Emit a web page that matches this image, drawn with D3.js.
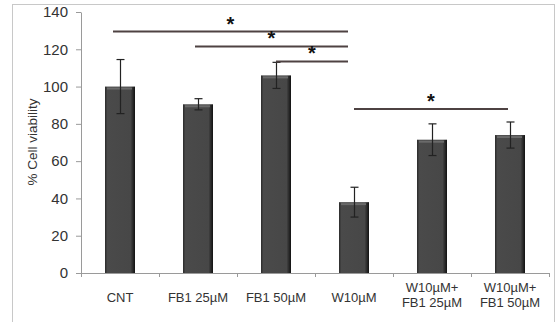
<!DOCTYPE html>
<html>
<head>
<meta charset="utf-8">
<script src="https://cdn.jsdelivr.net/npm/d3@7/dist/d3.min.js"></script>
<style>
  html, body { margin: 0; padding: 0; background: #fff; }
  svg { display: block; font-family: Arial, "Liberation Sans", sans-serif; }
</style>
</head>
<body>
<svg id="chart" width="558" height="322"></svg>
<script>
// Treatment groups (label lines), mean viability and error (±)
const categories = ["CNT", "FB1 25µM", "FB1 50µM", "W10µM", "W10µM+\nFB1 25µM", "W10µM+\nFB1 50µM"];
const viability = [100, 90.5, 106, 38, 71.5, 74];
const errors = [14.5, 3, 7, 8, 8.5, 7];
const yTicks = [0, 20, 40, 60, 80, 100, 120, 140];
// Significance brackets: from group, to group, height (% units)
const sigFrom = [0, 1, 2, 3];
const sigTo = [3, 3, 3, 5];
const sigLevel = [129.5, 121.5, 113.5, 88];

const svg = d3.select("#chart");

// Outer frame
svg.append("rect")
  .attr("x", 12.5).attr("y", 4.5).attr("width", 542).attr("height", 318)
  .attr("fill", "none").attr("stroke", "#c8c8c8").attr("stroke-width", 1);

const plotLeft = 81, plotRight = 549, plotTop = 12, plotBottom = 273;

const x = d3.scaleBand().domain(d3.range(categories.length)).range([plotLeft, plotRight]).padding(0);
const y = d3.scaleLinear().domain([0, 140]).range([plotBottom, plotTop]);

// Y axis
const yAxis = svg.append("g")
  .attr("transform", `translate(${plotLeft},0)`)
  .call(d3.axisLeft(y).tickValues(yTicks).tickSize(5).tickPadding(8).tickSizeOuter(0));
yAxis.select(".domain").attr("stroke", "#9a9a9a");
yAxis.selectAll(".tick line").attr("stroke", "#9a9a9a");
yAxis.selectAll(".tick text").attr("font-size", 15).attr("fill", "#333");

// X axis with ticks at group boundaries
const xAxisG = svg.append("g").attr("transform", `translate(0,${plotBottom})`);
xAxisG.append("line")
  .attr("x1", plotLeft).attr("x2", plotRight).attr("y1", 0.5).attr("y2", 0.5)
  .attr("stroke", "#9a9a9a");
xAxisG.selectAll("line.bt")
  .data(d3.range(categories.length + 1))
  .join("line").attr("class", "bt")
  .attr("x1", i => (i < categories.length ? x(i) : plotRight) + 0.5)
  .attr("x2", i => (i < categories.length ? x(i) : plotRight) + 0.5)
  .attr("y1", 0).attr("y2", 4)
  .attr("stroke", "#9a9a9a");

// Category labels (possibly two lines)
const lbl = svg.append("g").selectAll("text")
  .data(categories)
  .join("text")
  .attr("x", (d, i) => x(i) + x.bandwidth() / 2)
  .attr("text-anchor", "middle")
  .attr("font-size", 13)
  .attr("fill", "#333");
lbl.each(function(d) {
  const lines = d.split("\n");
  const t = d3.select(this);
  const y0 = lines.length === 1 ? 302 : 292;
  lines.forEach((s, k) => {
    t.append("tspan").attr("x", t.attr("x")).attr("y", y0 + k * 15).text(s);
  });
});

// Y axis title
svg.append("text")
  .attr("transform", "translate(37,142) rotate(-90)")
  .attr("text-anchor", "middle")
  .attr("font-size", 13.5)
  .attr("fill", "#333")
  .text("% Cell viability");

// Bars
const barW = 30;
const cx = i => x(i) + x.bandwidth() / 2;
const defs = svg.append("defs");
const grad = defs.append("linearGradient").attr("id", "barGrad").attr("x1", 0).attr("x2", 1);
grad.append("stop").attr("offset", "0%").attr("stop-color", "#2a2a2a");
grad.append("stop").attr("offset", "8%").attr("stop-color", "#4a4a4a");
grad.append("stop").attr("offset", "85%").attr("stop-color", "#474747");
grad.append("stop").attr("offset", "100%").attr("stop-color", "#111");

svg.append("g").selectAll("rect")
  .data(viability)
  .join("rect")
  .attr("x", (d, i) => cx(i) - barW / 2)
  .attr("y", d => y(d))
  .attr("width", barW)
  .attr("height", d => plotBottom - y(d))
  .attr("fill", "url(#barGrad)");
// lighter top edge of bars
svg.append("g").selectAll("rect")
  .data(viability)
  .join("rect")
  .attr("x", (d, i) => cx(i) - barW / 2 + 2)
  .attr("y", d => y(d) + 1)
  .attr("width", barW - 5)
  .attr("height", 2)
  .attr("fill", "#6a6a6a");

// Error bars
const eg = svg.append("g").attr("stroke", "#222").attr("stroke-width", 1.2);
viability.forEach((v, i) => {
  const c = Math.round(cx(i)) + 0.5;
  eg.append("line").attr("x1", c).attr("x2", c).attr("y1", y(v + errors[i])).attr("y2", y(v - errors[i]));
  eg.append("line").attr("x1", c - 4).attr("x2", c + 4).attr("y1", y(v + errors[i])).attr("y2", y(v + errors[i]));
  eg.append("line").attr("x1", c - 4).attr("x2", c + 4).attr("y1", y(v - errors[i])).attr("y2", y(v - errors[i]));
});

// Significance brackets
const sg = svg.append("g");
sigLevel.forEach((lv, k) => {
  const x1 = cx(sigFrom[k]) - (k === 0 ? 7 : k === 1 ? 3 : 0);
  const x2 = cx(sigTo[k]) - (k === 3 ? 2 : 6);
  const yy = y(lv);
  sg.append("line").attr("x1", x1).attr("x2", x2).attr("y1", yy).attr("y2", yy)
    .attr("stroke", "#4e4242").attr("stroke-width", 2);
  sg.append("text")
    .attr("x", (x1 + x2) / 2)
    .attr("y", yy - 1)
    .attr("text-anchor", "middle")
    .attr("font-size", 20)
    .attr("font-weight", "bold")
    .attr("fill", "#111")
    .text("*");
});
</script>
</body>
</html>
